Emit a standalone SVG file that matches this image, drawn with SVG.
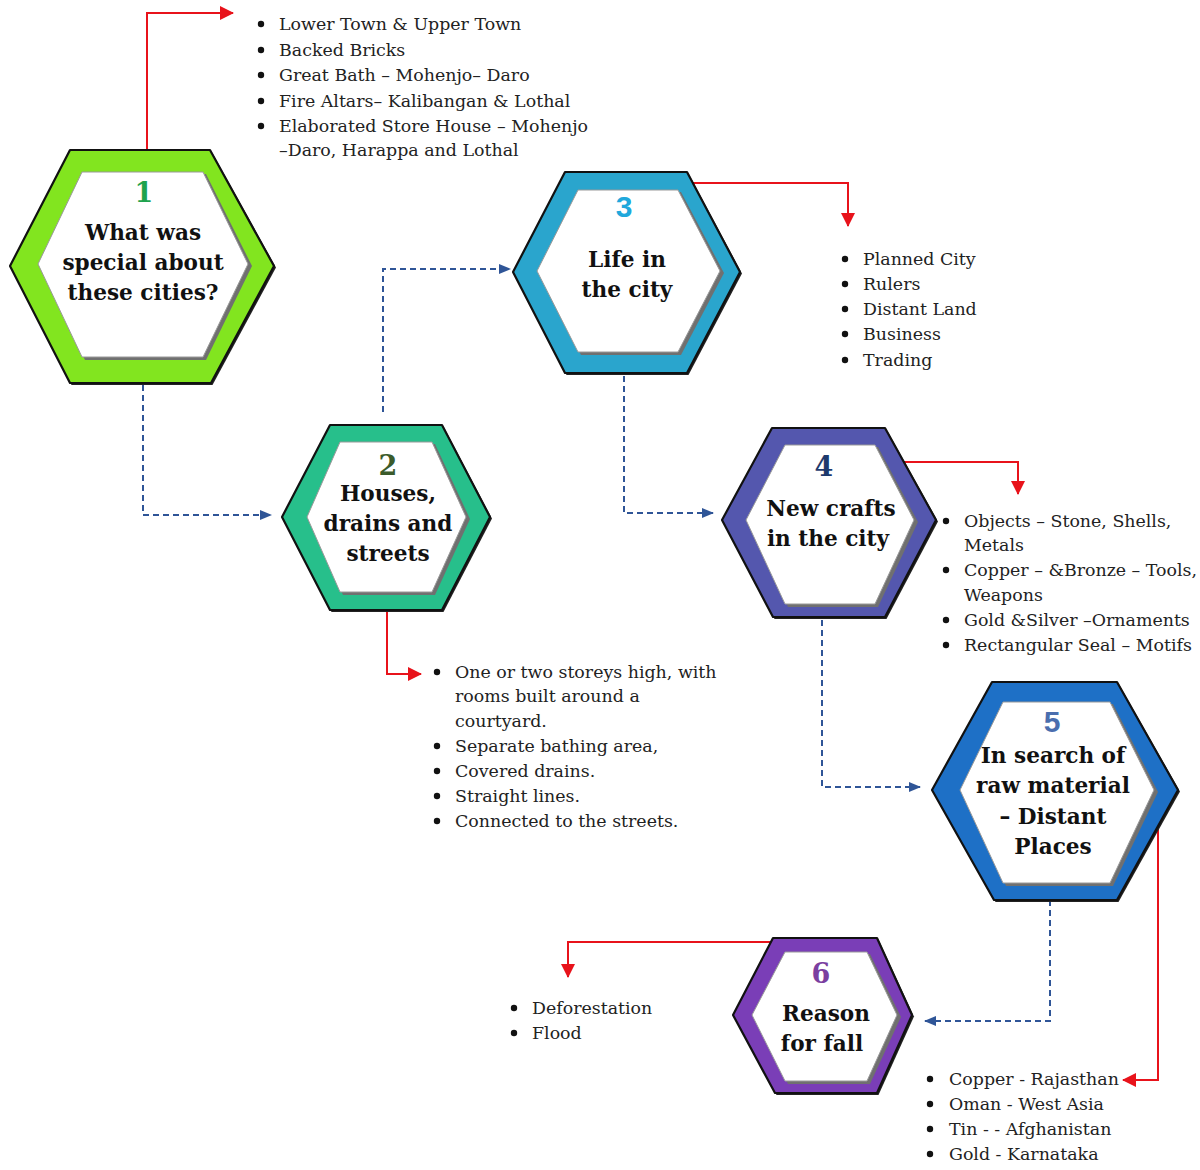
<svg xmlns="http://www.w3.org/2000/svg" width="1200" height="1170" viewBox="0 0 1200 1170">
<defs>
<marker id="ra" markerUnits="userSpaceOnUse" markerWidth="14" markerHeight="14" refX="13" refY="7" orient="auto"><path d="M0,0 L14,7 L0,14 Z" fill="#E8131B"/></marker>
<marker id="ba" markerUnits="userSpaceOnUse" markerWidth="12" markerHeight="12" refX="11" refY="6" orient="auto"><path d="M0,1 L12,6 L0,11 Z" fill="#2F5597"/></marker>
</defs>
<style>
.red{fill:none;stroke:#E8131B;stroke-width:2}
.blue{fill:none;stroke:#2F5597;stroke-width:2;stroke-dasharray:6,4}
.shadow{fill:#222}
.outer{stroke:#111;stroke-width:2.2;stroke-linejoin:round}
.ishadow{fill:#707070}
.inner{fill:#fff;stroke:#999;stroke-width:1}
.title{font-family:"DejaVu Serif",serif;font-weight:bold;font-size:21.6px;fill:#111;text-anchor:middle}
.num{font-family:"DejaVu Serif",serif;font-weight:bold;font-size:27px;text-anchor:middle}
.nums{font-family:"Liberation Sans",Arial,sans-serif;font-weight:bold;font-size:30px;text-anchor:middle}
.body{font-family:"DejaVu Serif",serif;font-size:17.4px;fill:#222}
.dot{fill:#111}
</style>
<rect width="1200" height="1170" fill="#fff"/>

<g id="connectors">
<polyline class="red" points="147,150 147,13 233,13" marker-end="url(#ra)"/>
<polyline class="red" points="692,183 848,183 848,226" marker-end="url(#ra)"/>
<polyline class="red" points="903,462 1018,462 1018,494" marker-end="url(#ra)"/>
<polyline class="red" points="387,610 387,674 421,674" marker-end="url(#ra)"/>
<polyline class="red" points="1158,828 1158,1080 1123,1080" marker-end="url(#ra)"/>
<polyline class="red" points="773,942 568,942 568,977" marker-end="url(#ra)"/>
<polyline class="blue" points="143,385 143,515 271,515" marker-end="url(#ba)"/>
<polyline class="blue" points="383,412 383,269 510,269" marker-end="url(#ba)"/>
<polyline class="blue" points="624,376 624,513 713,513" marker-end="url(#ba)"/>
<polyline class="blue" points="822,620 822,787 920,787" marker-end="url(#ba)"/>
<polyline class="blue" points="1050,900 1050,1021 925,1021" marker-end="url(#ba)"/>
</g>

<g id="node1">
<polygon class="shadow" points="71.5,151.5 211.5,151.5 276,267.5 212.5,385 71.5,385 11.5,267.5"/>
<polygon class="outer" fill="#82E51F" points="70,150 210,150 274,266 211,383 70,383 10,266"/>
<polygon class="ishadow" points="85,174 206,174 252,266 206,360 85,360 40,266"/>
<polygon class="inner" points="82,172 203,172 248,264 203,357 82,357 38,264"/>
<text class="num" x="144" y="202" fill="#1FA34E">1</text>
<text class="title" x="143" y="240">What was</text>
<text class="title" x="143" y="270">special about</text>
<text class="title" x="143" y="300">these cities?</text>
</g>

<g id="node2">
<polygon class="shadow" points="331.5,426.5 443.5,426.5 492,518.5 443.5,612 331.5,612 283.5,518.5"/>
<polygon class="outer" fill="#27BF8B" points="330,425 442,425 490,517 442,610 330,610 282,517"/>
<polygon class="ishadow" points="343,444 435,444 470,519 435,595 343,595 309,519"/>
<polygon class="inner" points="340,442 432,442 466,517 432,592 340,592 307,517"/>
<text class="num" x="388" y="475" fill="#3B5B2B">2</text>
<text class="title" x="388" y="501">Houses,</text>
<text class="title" x="388" y="531">drains and</text>
<text class="title" x="388" y="561">streets</text>
</g>

<g id="node3">
<polygon class="shadow" points="566.5,173.5 688.5,173.5 742,273.5 688.5,375 566.5,375 514.5,273.5"/>
<polygon class="outer" fill="#2AA5CD" points="565,172 687,172 740,272 687,373 565,373 513,272"/>
<polygon class="ishadow" points="581,192 681,192 724,273 681,355 581,355 539,273"/>
<polygon class="inner" points="578,190 678,190 720,271 678,352 578,352 537,271"/>
<text class="nums" x="624" y="217" fill="#20A8DC">3</text>
<text class="title" x="627" y="267">Life in</text>
<text class="title" x="627" y="297">the city</text>
</g>

<g id="node4">
<polygon class="shadow" points="773.5,429.5 886.5,429.5 938,521.5 886.5,619 774.5,619 723.5,521.5"/>
<polygon class="outer" fill="#5457AE" points="772,428 885,428 936,520 885,617 773,617 722,520"/>
<polygon class="ishadow" points="788,447 878,447 918,522 878,607 788,607 748,522"/>
<polygon class="inner" points="785,445 875,445 914,520 875,604 785,604 746,520"/>
<text class="num" x="824" y="476" fill="#1E3A6D">4</text>
<text class="title" x="831" y="516">New crafts</text>
<text class="title" x="828" y="546">in the city</text>
</g>

<g id="node5">
<polygon class="shadow" points="993.5,683.5 1118.5,683.5 1180,791.5 1118.5,902 995.5,902 933.5,791.5"/>
<polygon class="outer" fill="#1E70C6" points="992,682 1117,682 1178,790 1117,900 994,900 932,790"/>
<polygon class="ishadow" points="1006,704 1113,704 1158,792 1113,886 1006,886 962,792"/>
<polygon class="inner" points="1003,702 1110,702 1154,790 1110,883 1003,883 960,790"/>
<text class="nums" x="1052" y="732" fill="#4A6EAE">5</text>
<text class="title" x="1053" y="763">In search of</text>
<text class="title" x="1053" y="793">raw material</text>
<text class="title" x="1053" y="824">– Distant</text>
<text class="title" x="1053" y="854">Places</text>
</g>

<g id="node6">
<polygon class="shadow" points="774.5,939.5 878.5,939.5 914,1016.5 878.5,1095 776.5,1095 734.5,1016.5"/>
<polygon class="outer" fill="#7A3EB7" points="773,938 877,938 912,1015 877,1093 775,1093 733,1015"/>
<polygon class="ishadow" points="788,954 870,954 901,1017 870,1084 788,1084 754,1017"/>
<polygon class="inner" points="785,952 867,952 897,1015 867,1081 785,1081 752,1015"/>
<text class="num" x="821" y="983" fill="#7B3FA0">6</text>
<text class="title" x="826" y="1021">Reason</text>
<text class="title" x="822" y="1051">for fall</text>
</g>

<g id="list1">
<circle class="dot" cx="261" cy="24" r="3.2"/><circle class="dot" cx="261" cy="50" r="3.2"/><circle class="dot" cx="261" cy="75" r="3.2"/><circle class="dot" cx="261" cy="101" r="3.2"/><circle class="dot" cx="261" cy="126" r="3.2"/>
<text class="body" x="279" y="30">Lower Town &amp; Upper Town</text>
<text class="body" x="279" y="56">Backed Bricks</text>
<text class="body" x="279" y="81">Great Bath – Mohenjo– Daro</text>
<text class="body" x="279" y="107">Fire Altars– Kalibangan &amp; Lothal</text>
<text class="body" x="279" y="132">Elaborated Store House – Mohenjo</text>
<text class="body" x="279" y="156">–Daro, Harappa and Lothal</text>
</g>

<g id="list3">
<circle class="dot" cx="845" cy="259" r="3.2"/><circle class="dot" cx="845" cy="284" r="3.2"/><circle class="dot" cx="845" cy="309" r="3.2"/><circle class="dot" cx="845" cy="334" r="3.2"/><circle class="dot" cx="845" cy="360" r="3.2"/>
<text class="body" x="863" y="265">Planned City</text>
<text class="body" x="863" y="290">Rulers</text>
<text class="body" x="863" y="315">Distant Land</text>
<text class="body" x="863" y="340">Business</text>
<text class="body" x="863" y="366">Trading</text>
</g>

<g id="list4">
<circle class="dot" cx="946" cy="521" r="3.2"/><circle class="dot" cx="946" cy="570" r="3.2"/><circle class="dot" cx="946" cy="620" r="3.2"/><circle class="dot" cx="946" cy="645" r="3.2"/>
<text class="body" x="964" y="527">Objects – Stone, Shells,</text>
<text class="body" x="964" y="551">Metals</text>
<text class="body" x="964" y="576">Copper – &amp;Bronze – Tools,</text>
<text class="body" x="964" y="601">Weapons</text>
<text class="body" x="964" y="626">Gold &amp;Silver –Ornaments</text>
<text class="body" x="964" y="651">Rectangular Seal – Motifs</text>
</g>

<g id="list2">
<circle class="dot" cx="437" cy="672" r="3.2"/><circle class="dot" cx="437" cy="746" r="3.2"/><circle class="dot" cx="437" cy="771" r="3.2"/><circle class="dot" cx="437" cy="796" r="3.2"/><circle class="dot" cx="437" cy="821" r="3.2"/>
<text class="body" x="455" y="678">One or two storeys high, with</text>
<text class="body" x="455" y="702">rooms built around a</text>
<text class="body" x="455" y="727">courtyard.</text>
<text class="body" x="455" y="752">Separate bathing area,</text>
<text class="body" x="455" y="777">Covered drains.</text>
<text class="body" x="455" y="802">Straight lines.</text>
<text class="body" x="455" y="827">Connected to the streets.</text>
</g>

<g id="list6">
<circle class="dot" cx="514" cy="1008" r="3.2"/><circle class="dot" cx="514" cy="1033" r="3.2"/>
<text class="body" x="532" y="1014">Deforestation</text>
<text class="body" x="532" y="1039">Flood</text>
</g>

<g id="list5">
<circle class="dot" cx="930" cy="1079" r="3.2"/><circle class="dot" cx="930" cy="1104" r="3.2"/><circle class="dot" cx="930" cy="1129" r="3.2"/><circle class="dot" cx="930" cy="1154" r="3.2"/>
<text class="body" x="949" y="1085">Copper - Rajasthan</text>
<text class="body" x="949" y="1110">Oman - West Asia</text>
<text class="body" x="949" y="1135">Tin - - Afghanistan</text>
<text class="body" x="949" y="1160">Gold - Karnataka</text>
</g>
</svg>
